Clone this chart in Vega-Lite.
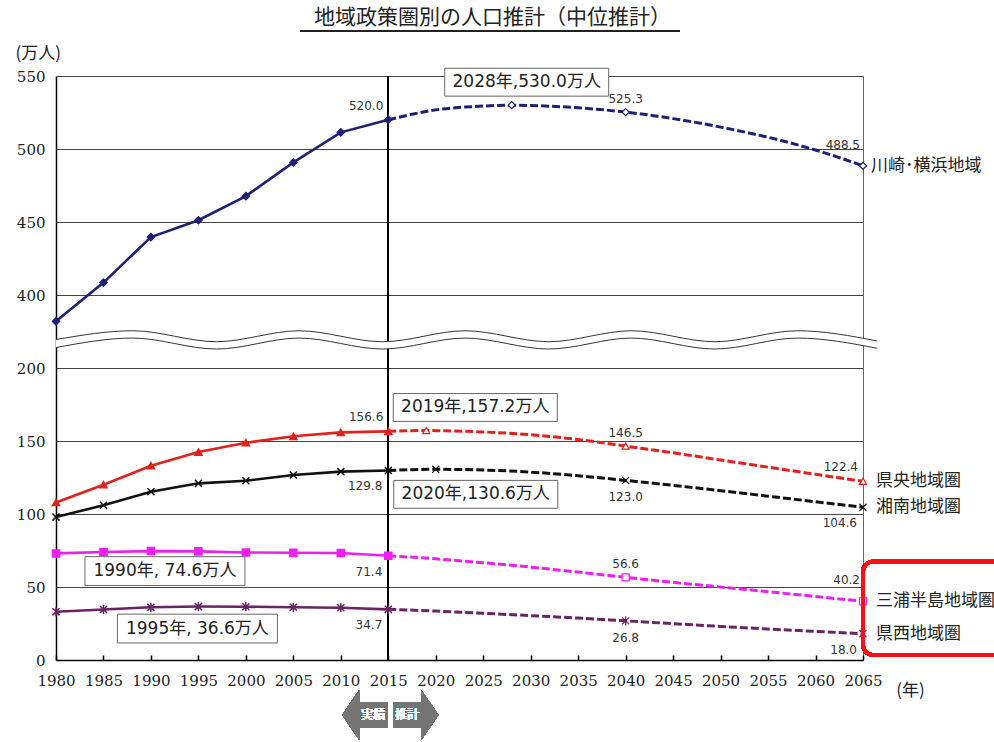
{
  "$schema": "https://vega.github.io/schema/vega-lite/v6.json",
  "width": 807,
  "height": 584,
  "autosize": {"type": "none"},
  "padding": {"left": 56, "top": 76, "right": 131, "bottom": 82},
  "background": "white",
  "config": {
    "view": {"stroke": "#666", "strokeWidth": 1},
    "font": "Noto Sans CJK JP"
  },
  "title": {
    "text": "地域政策圏別の人口推計（中位推計）",
    "font": "Noto Sans CJK JP",
    "fontSize": 21,
    "fontWeight": "normal",
    "color": "#222",
    "anchor": "middle",
    "frame": "group",
    "dx": 33,
    "offset": -15,
    "baseline": "alphabetic"
  },
  "datasets": {
    "population": [
      {"region": "川崎･横浜地域", "year": 1980, "value": 382.0},
      {"region": "川崎･横浜地域", "year": 1985, "value": 408.5},
      {"region": "川崎･横浜地域", "year": 1990, "value": 439.7},
      {"region": "川崎･横浜地域", "year": 1995, "value": 451.2},
      {"region": "川崎･横浜地域", "year": 2000, "value": 467.7},
      {"region": "川崎･横浜地域", "year": 2005, "value": 490.8},
      {"region": "川崎･横浜地域", "year": 2010, "value": 511.4},
      {"region": "川崎･横浜地域", "year": 2015, "value": 520.0},
      {"region": "川崎･横浜地域", "year": 2020, "value": 526.8},
      {"region": "川崎･横浜地域", "year": 2025, "value": 529.4},
      {"region": "川崎･横浜地域", "year": 2028, "value": 530.0, "peak": true},
      {"region": "川崎･横浜地域", "year": 2030, "value": 529.8},
      {"region": "川崎･横浜地域", "year": 2035, "value": 528.2},
      {"region": "川崎･横浜地域", "year": 2040, "value": 525.3},
      {"region": "川崎･横浜地域", "year": 2045, "value": 520.8},
      {"region": "川崎･横浜地域", "year": 2050, "value": 515.0},
      {"region": "川崎･横浜地域", "year": 2055, "value": 508.0},
      {"region": "川崎･横浜地域", "year": 2060, "value": 499.3},
      {"region": "川崎･横浜地域", "year": 2065, "value": 488.5},

      {"region": "県央地域圏", "year": 1980, "value": 107.9},
      {"region": "県央地域圏", "year": 1985, "value": 120.0},
      {"region": "県央地域圏", "year": 1990, "value": 133.1},
      {"region": "県央地域圏", "year": 1995, "value": 142.4},
      {"region": "県央地域圏", "year": 2000, "value": 148.8},
      {"region": "県央地域圏", "year": 2005, "value": 153.2},
      {"region": "県央地域圏", "year": 2010, "value": 155.9},
      {"region": "県央地域圏", "year": 2015, "value": 156.6},
      {"region": "県央地域圏", "year": 2019, "value": 157.2, "peak": true},
      {"region": "県央地域圏", "year": 2020, "value": 157.1},
      {"region": "県央地域圏", "year": 2025, "value": 156.2},
      {"region": "県央地域圏", "year": 2030, "value": 154.3},
      {"region": "県央地域圏", "year": 2035, "value": 151.0},
      {"region": "県央地域圏", "year": 2040, "value": 146.5},
      {"region": "県央地域圏", "year": 2045, "value": 141.9},
      {"region": "県央地域圏", "year": 2050, "value": 137.0},
      {"region": "県央地域圏", "year": 2055, "value": 132.1},
      {"region": "県央地域圏", "year": 2060, "value": 127.2},
      {"region": "県央地域圏", "year": 2065, "value": 122.4},

      {"region": "湘南地域圏", "year": 1980, "value": 97.9},
      {"region": "湘南地域圏", "year": 1985, "value": 106.0},
      {"region": "湘南地域圏", "year": 1990, "value": 115.2},
      {"region": "湘南地域圏", "year": 1995, "value": 121.0},
      {"region": "湘南地域圏", "year": 2000, "value": 122.8},
      {"region": "湘南地域圏", "year": 2005, "value": 126.7},
      {"region": "湘南地域圏", "year": 2010, "value": 129.0},
      {"region": "湘南地域圏", "year": 2015, "value": 129.8},
      {"region": "湘南地域圏", "year": 2020, "value": 130.6, "peak": true},
      {"region": "湘南地域圏", "year": 2025, "value": 130.1},
      {"region": "湘南地域圏", "year": 2030, "value": 128.7},
      {"region": "湘南地域圏", "year": 2035, "value": 126.2},
      {"region": "湘南地域圏", "year": 2040, "value": 123.0},
      {"region": "湘南地域圏", "year": 2045, "value": 119.6},
      {"region": "湘南地域圏", "year": 2050, "value": 116.0},
      {"region": "湘南地域圏", "year": 2055, "value": 112.2},
      {"region": "湘南地域圏", "year": 2060, "value": 108.4},
      {"region": "湘南地域圏", "year": 2065, "value": 104.6},

      {"region": "三浦半島地域圏", "year": 1980, "value": 73.0},
      {"region": "三浦半島地域圏", "year": 1985, "value": 74.0},
      {"region": "三浦半島地域圏", "year": 1990, "value": 74.6, "peak": true},
      {"region": "三浦半島地域圏", "year": 1995, "value": 74.4},
      {"region": "三浦半島地域圏", "year": 2000, "value": 73.6},
      {"region": "三浦半島地域圏", "year": 2005, "value": 73.5},
      {"region": "三浦半島地域圏", "year": 2010, "value": 73.3},
      {"region": "三浦半島地域圏", "year": 2015, "value": 71.4},
      {"region": "三浦半島地域圏", "year": 2020, "value": 69.3},
      {"region": "三浦半島地域圏", "year": 2025, "value": 66.6},
      {"region": "三浦半島地域圏", "year": 2030, "value": 63.6},
      {"region": "三浦半島地域圏", "year": 2035, "value": 60.2},
      {"region": "三浦半島地域圏", "year": 2040, "value": 56.6},
      {"region": "三浦半島地域圏", "year": 2045, "value": 53.2},
      {"region": "三浦半島地域圏", "year": 2050, "value": 50.0},
      {"region": "三浦半島地域圏", "year": 2055, "value": 46.8},
      {"region": "三浦半島地域圏", "year": 2060, "value": 43.5},
      {"region": "三浦半島地域圏", "year": 2065, "value": 40.2},

      {"region": "県西地域圏", "year": 1980, "value": 33.0},
      {"region": "県西地域圏", "year": 1985, "value": 34.6},
      {"region": "県西地域圏", "year": 1990, "value": 36.1},
      {"region": "県西地域圏", "year": 1995, "value": 36.6, "peak": true},
      {"region": "県西地域圏", "year": 2000, "value": 36.5},
      {"region": "県西地域圏", "year": 2005, "value": 36.1},
      {"region": "県西地域圏", "year": 2010, "value": 35.8},
      {"region": "県西地域圏", "year": 2015, "value": 34.7},
      {"region": "県西地域圏", "year": 2020, "value": 33.5},
      {"region": "県西地域圏", "year": 2025, "value": 32.0},
      {"region": "県西地域圏", "year": 2030, "value": 30.4},
      {"region": "県西地域圏", "year": 2035, "value": 28.7},
      {"region": "県西地域圏", "year": 2040, "value": 26.8},
      {"region": "県西地域圏", "year": 2045, "value": 24.9},
      {"region": "県西地域圏", "year": 2050, "value": 23.0},
      {"region": "県西地域圏", "year": 2055, "value": 21.2},
      {"region": "県西地域圏", "year": 2060, "value": 19.6},
      {"region": "県西地域圏", "year": 2065, "value": 18.0}
    ],
    "axisBreak": [
      {"year": 1980, "value": 369.5, "value2": 364.0},
      {"year": 1988.1, "value": 375.5, "value2": 370.5},
      {"year": 1996.9, "value": 368.0, "value2": 363.0},
      {"year": 2005.6, "value": 375.5, "value2": 370.5},
      {"year": 2014.4, "value": 368.0, "value2": 363.0},
      {"year": 2023.1, "value": 375.5, "value2": 370.5},
      {"year": 2031.9, "value": 368.0, "value2": 363.0},
      {"year": 2040.6, "value": 375.5, "value2": 370.5},
      {"year": 2049.4, "value": 368.0, "value2": 363.0},
      {"year": 2058.1, "value": 375.5, "value2": 370.5},
      {"year": 2066.5, "value": 368.5, "value2": 363.5}
    ]
  },
  "data": {"name": "population"},
  "layer": [
    {
      "mark": {"type": "rule", "color": "#000", "strokeWidth": 1.3},
      "encoding": {
        "x": {
          "datum": 2015,
          "type": "quantitative",
          "scale": {"domain": [1980, 2065], "nice": false, "zero": false},
          "axis": {
            "values": [1980, 1985, 1990, 1995, 2000, 2005, 2010, 2015, 2020, 2025, 2030, 2035, 2040, 2045, 2050, 2055, 2060, 2065],
            "format": "d",
            "title": "(年)",
            "titleAngle": 0,
            "titleX": 854,
            "titleY": 30,
            "titleAlign": "center",
            "titleBaseline": "middle",
            "titleFont": "Noto Sans CJK JP",
            "titleFontSize": 17,
            "titleFontWeight": "normal",
            "titleColor": "#222",
            "labelFont": "DejaVu Serif",
            "labelFontSize": 15,
            "labelColor": "#222",
            "labelPadding": 18,
            "labelFlush": false,
            "labelOverlap": false,
            "tickSize": -5,
            "tickColor": "#000",
            "tickWidth": 1.5,
            "domainColor": "#000",
            "domainWidth": 1.5,
            "grid": false
          }
        }
      }
    },
    {
      "data": {"name": "axisBreak"},
      "mark": {"type": "area", "interpolate": "monotone", "color": "white", "opacity": 1},
      "encoding": {
        "x": {"field": "year", "type": "quantitative"},
        "y": {
          "field": "value",
          "type": "quantitative",
          "scale": {"domain": [0, 200, 350, 550], "range": [584, 292, 292, 0], "nice": false, "zero": false},
          "axis": {
            "values": [0, 50, 100, 150, 200, 400, 450, 500, 550],
            "title": "(万人)",
            "titleAngle": 0,
            "titleX": -41,
            "titleY": -23,
            "titleAlign": "left",
            "titleBaseline": "middle",
            "titleFont": "Noto Sans CJK JP",
            "titleFontSize": 17,
            "titleFontWeight": "normal",
            "titleColor": "#222",
            "labelFont": "DejaVu Serif",
            "labelFontSize": 15,
            "labelColor": "#222",
            "labelPadding": 11,
            "ticks": false,
            "domainColor": "#000",
            "domainWidth": 1.5,
            "grid": true,
            "gridColor": "#444",
            "gridWidth": 1
          }
        },
        "y2": {"field": "value2"}
      }
    },
    {
      "data": {"name": "axisBreak"},
      "mark": {"type": "line", "interpolate": "monotone", "color": "#333", "strokeWidth": 1},
      "encoding": {
        "x": {"field": "year", "type": "quantitative"},
        "y": {"field": "value", "type": "quantitative"}
      }
    },
    {
      "data": {"name": "axisBreak"},
      "mark": {"type": "line", "interpolate": "monotone", "color": "#333", "strokeWidth": 1},
      "encoding": {
        "x": {"field": "year", "type": "quantitative"},
        "y": {"field": "value2", "type": "quantitative"}
      }
    },
    {
      "transform": [{"filter": "datum.year <= 2015"}],
      "mark": {"type": "line", "strokeWidth": 2.6},
      "encoding": {
        "x": {"field": "year", "type": "quantitative"},
        "y": {"field": "value", "type": "quantitative"},
        "color": {
          "field": "region",
          "type": "nominal",
          "scale": {
            "domain": ["川崎･横浜地域", "県央地域圏", "湘南地域圏", "三浦半島地域圏", "県西地域圏"],
            "range": ["#1f1f78", "#e3211c", "#111111", "#ee1fee", "#6a2363"]
          },
          "legend": null
        }
      }
    },
    {
      "transform": [{"filter": "datum.year >= 2015"}],
      "mark": {"type": "line", "strokeWidth": 3, "strokeDash": [8, 3], "interpolate": "monotone"},
      "encoding": {
        "x": {"field": "year", "type": "quantitative"},
        "y": {"field": "value", "type": "quantitative"},
        "color": {"field": "region", "type": "nominal", "legend": null}
      }
    },
    {
      "transform": [{"filter": "datum.year <= 2015"}],
      "mark": {"type": "point", "filled": true, "size": 50, "opacity": 1, "strokeWidth": 1.5},
      "encoding": {
        "x": {"field": "year", "type": "quantitative"},
        "y": {"field": "value", "type": "quantitative"},
        "fill": {
          "field": "region",
          "type": "nominal",
          "scale": {
            "domain": ["川崎･横浜地域", "県央地域圏", "湘南地域圏", "三浦半島地域圏", "県西地域圏"],
            "range": ["#1f1f78", "#e3211c", "#111111", "#ee1fee", "#6a2363"]
          },
          "legend": null
        },
        "stroke": {
          "field": "region",
          "type": "nominal",
          "scale": {
            "domain": ["川崎･横浜地域", "県央地域圏", "湘南地域圏", "三浦半島地域圏", "県西地域圏"],
            "range": ["#1f1f78", "#e3211c", "#111111", "#ee1fee", "#6a2363"]
          },
          "legend": null
        },
        "shape": {
          "field": "region",
          "type": "nominal",
          "scale": {
            "domain": ["川崎･横浜地域", "県央地域圏", "湘南地域圏", "三浦半島地域圏", "県西地域圏"],
            "range": ["diamond", "triangle-up", "M-1,-1L1,1M-1,1L1,-1", "square", "M-1,-1L1,1M-1,1L1,-1M0,-1.3L0,1.3"]
          },
          "legend": null
        }
      }
    },
    {
      "transform": [{"filter": "datum.year > 2015 && (datum.year == 2040 || datum.year == 2065 || datum.peak)"}],
      "mark": {"type": "point", "filled": true, "fill": "white", "size": 50, "opacity": 1, "strokeWidth": 1.2},
      "encoding": {
        "x": {"field": "year", "type": "quantitative"},
        "y": {"field": "value", "type": "quantitative"},
        "stroke": {"field": "region", "type": "nominal", "legend": null},
        "shape": {"field": "region", "type": "nominal", "legend": null}
      }
    },
    {
      "transform": [{"filter": "(datum.year == 2015 && (datum.region == '川崎･横浜地域' || datum.region == '県央地域圏')) || (datum.year == 2065 && datum.region == '県央地域圏')"}],
      "mark": {"type": "text", "font": "DejaVu Sans", "fontSize": 12, "color": "#333", "align": "right", "baseline": "middle", "dx": -5, "dy": -14},
      "encoding": {
        "x": {"field": "year", "type": "quantitative"},
        "y": {"field": "value", "type": "quantitative"},
        "text": {"field": "value", "type": "quantitative", "format": ".1f"}
      }
    },
    {
      "transform": [{"filter": "datum.year == 2065 && (datum.region == '川崎･横浜地域' || datum.region == '三浦半島地域圏')"}],
      "mark": {"type": "text", "font": "DejaVu Sans", "fontSize": 12, "color": "#333", "align": "right", "baseline": "middle", "dx": -3, "dy": -21},
      "encoding": {
        "x": {"field": "year", "type": "quantitative"},
        "y": {"field": "value", "type": "quantitative"},
        "text": {"field": "value", "type": "quantitative", "format": ".1f"}
      }
    },
    {
      "transform": [{"filter": "(datum.year == 2015 && (datum.region == '湘南地域圏' || datum.region == '三浦半島地域圏' || datum.region == '県西地域圏')) || (datum.year == 2065 && (datum.region == '湘南地域圏' || datum.region == '県西地域圏'))"}],
      "mark": {"type": "text", "font": "DejaVu Sans", "fontSize": 12, "color": "#333", "align": "right", "baseline": "middle", "dx": -6, "dy": 16},
      "encoding": {
        "x": {"field": "year", "type": "quantitative"},
        "y": {"field": "value", "type": "quantitative"},
        "text": {"field": "value", "type": "quantitative", "format": ".1f"}
      }
    },
    {
      "transform": [{"filter": "datum.year == 2040 && (datum.region == '川崎･横浜地域' || datum.region == '県央地域圏' || datum.region == '三浦半島地域圏')"}],
      "mark": {"type": "text", "font": "DejaVu Sans", "fontSize": 12, "color": "#333", "align": "center", "baseline": "middle", "dy": -13},
      "encoding": {
        "x": {"field": "year", "type": "quantitative"},
        "y": {"field": "value", "type": "quantitative"},
        "text": {"field": "value", "type": "quantitative", "format": ".1f"}
      }
    },
    {
      "transform": [{"filter": "datum.year == 2040 && (datum.region == '湘南地域圏' || datum.region == '県西地域圏')"}],
      "mark": {"type": "text", "font": "DejaVu Sans", "fontSize": 12, "color": "#333", "align": "center", "baseline": "middle", "dy": 17},
      "encoding": {
        "x": {"field": "year", "type": "quantitative"},
        "y": {"field": "value", "type": "quantitative"},
        "text": {"field": "value", "type": "quantitative", "format": ".1f"}
      }
    },
    {
      "transform": [{"filter": "datum.year == 2065 && datum.region == '川崎･横浜地域'"}],
      "mark": {"type": "text", "font": "Noto Sans CJK JP", "fontSize": 17, "color": "#222", "align": "left", "baseline": "middle", "dx": 8},
      "encoding": {
        "x": {"field": "year", "type": "quantitative"},
        "y": {"field": "value", "type": "quantitative"},
        "text": {"field": "region"}
      }
    },
    {
      "transform": [{"filter": "datum.year == 2065 && datum.region != '川崎･横浜地域'"}],
      "mark": {"type": "text", "font": "Noto Sans CJK JP", "fontSize": 17, "color": "#222", "align": "left", "baseline": "middle", "dx": 13},
      "encoding": {
        "x": {"field": "year", "type": "quantitative"},
        "y": {"field": "value", "type": "quantitative"},
        "text": {"field": "region"}
      }
    },
    {
      "transform": [
        {"filter": "datum.peak && datum.region == '川崎･横浜地域'"},
        {"calculate": "datum.year + '年,' + format(datum.value, '.1f') + '万人'", "as": "note"}
      ],
      "encoding": {
        "x": {"field": "year", "type": "quantitative"},
        "y": {"field": "value", "type": "quantitative"}
      },
      "layer": [
        {"mark": {"type": "point", "shape": "M-1,-0.17L1,-0.17L1,0.17L-1,0.17Z", "size": 26896, "filled": true, "fill": "white", "stroke": "#666", "strokeWidth": 1, "opacity": 1, "xOffset": 15, "yOffset": -23}},
        {"mark": {"type": "text", "font": "DejaVu Sans, Noto Sans CJK JP", "fontSize": 17, "color": "#222", "align": "center", "baseline": "middle", "xOffset": 15, "yOffset": -23}, "encoding": {"text": {"field": "note"}}}
      ]
    },
    {
      "transform": [
        {"filter": "datum.peak && datum.region == '県央地域圏'"},
        {"calculate": "datum.year + '年,' + format(datum.value, '.1f') + '万人'", "as": "note"}
      ],
      "encoding": {
        "x": {"field": "year", "type": "quantitative"},
        "y": {"field": "value", "type": "quantitative"}
      },
      "layer": [
        {"mark": {"type": "point", "shape": "M-1,-0.17L1,-0.17L1,0.17L-1,0.17Z", "size": 26896, "filled": true, "fill": "white", "stroke": "#666", "strokeWidth": 1, "opacity": 1, "xOffset": 49, "yOffset": -23}},
        {"mark": {"type": "text", "font": "DejaVu Sans, Noto Sans CJK JP", "fontSize": 17, "color": "#222", "align": "center", "baseline": "middle", "xOffset": 49, "yOffset": -23}, "encoding": {"text": {"field": "note"}}}
      ]
    },
    {
      "transform": [
        {"filter": "datum.peak && datum.region == '湘南地域圏'"},
        {"calculate": "datum.year + '年,' + format(datum.value, '.1f') + '万人'", "as": "note"}
      ],
      "encoding": {
        "x": {"field": "year", "type": "quantitative"},
        "y": {"field": "value", "type": "quantitative"}
      },
      "layer": [
        {"mark": {"type": "point", "shape": "M-1,-0.17L1,-0.17L1,0.17L-1,0.17Z", "size": 26896, "filled": true, "fill": "white", "stroke": "#666", "strokeWidth": 1, "opacity": 1, "xOffset": 40, "yOffset": 25}},
        {"mark": {"type": "text", "font": "DejaVu Sans, Noto Sans CJK JP", "fontSize": 17, "color": "#222", "align": "center", "baseline": "middle", "xOffset": 40, "yOffset": 25}, "encoding": {"text": {"field": "note"}}}
      ]
    },
    {
      "transform": [
        {"filter": "datum.peak && datum.region == '三浦半島地域圏'"},
        {"calculate": "datum.year + '年, ' + format(datum.value, '.1f') + '万人'", "as": "note"}
      ],
      "encoding": {
        "x": {"field": "year", "type": "quantitative"},
        "y": {"field": "value", "type": "quantitative"}
      },
      "layer": [
        {"mark": {"type": "point", "shape": "M-1,-0.18L1,-0.18L1,0.18L-1,0.18Z", "size": 25600, "filled": true, "fill": "white", "stroke": "#666", "strokeWidth": 1, "opacity": 1, "xOffset": 14, "yOffset": 20}},
        {"mark": {"type": "text", "font": "DejaVu Sans, Noto Sans CJK JP", "fontSize": 17, "color": "#222", "align": "center", "baseline": "middle", "xOffset": 14, "yOffset": 20}, "encoding": {"text": {"field": "note"}}}
      ]
    },
    {
      "transform": [
        {"filter": "datum.peak && datum.region == '県西地域圏'"},
        {"calculate": "datum.year + '年, ' + format(datum.value, '.1f') + '万人'", "as": "note"}
      ],
      "encoding": {
        "x": {"field": "year", "type": "quantitative"},
        "y": {"field": "value", "type": "quantitative"}
      },
      "layer": [
        {"mark": {"type": "point", "shape": "M-1,-0.18L1,-0.18L1,0.18L-1,0.18Z", "size": 25600, "filled": true, "fill": "white", "stroke": "#666", "strokeWidth": 1, "opacity": 1, "xOffset": -1, "yOffset": 22}},
        {"mark": {"type": "text", "font": "DejaVu Sans, Noto Sans CJK JP", "fontSize": 17, "color": "#222", "align": "center", "baseline": "middle", "xOffset": -1, "yOffset": 22}, "encoding": {"text": {"field": "note"}}}
      ]
    },
    {
      "mark": {"type": "rect", "filled": false, "color": "#ff1010", "strokeWidth": 3.5, "cornerRadius": 10},
      "encoding": {
        "x": {"datum": 2065, "type": "quantitative"},
        "x2": {"datum": 2080},
        "y": {"datum": 3.4, "type": "quantitative"},
        "y2": {"datum": 67.4}
      }
    },
    {
      "mark": {"type": "point", "shape": "M-0.92,0L-0.58,-0.5L-0.58,-0.26L-0.02,-0.26L-0.02,0.26L-0.58,0.26L-0.58,0.5Z", "size": 10000, "filled": true, "color": "#747474", "opacity": 1, "yOffset": 55},
      "encoding": {
        "x": {"datum": 2015, "type": "quantitative"},
        "y": {"datum": 0, "type": "quantitative"}
      }
    },
    {
      "mark": {"type": "point", "shape": "M0.10,-0.26L0.66,-0.26L0.66,-0.5L1,0L0.66,0.5L0.66,0.26L0.10,0.26Z", "size": 10000, "filled": true, "color": "#747474", "opacity": 1, "yOffset": 55},
      "encoding": {
        "x": {"datum": 2015, "type": "quantitative"},
        "y": {"datum": 0, "type": "quantitative"}
      }
    },
    {
      "mark": {"type": "text", "text": "実績", "font": "Noto Sans CJK JP", "fontSize": 12, "color": "white", "align": "center", "baseline": "middle", "xOffset": -15, "yOffset": 55},
      "encoding": {
        "x": {"datum": 2015, "type": "quantitative"},
        "y": {"datum": 0, "type": "quantitative"}
      }
    },
    {
      "mark": {"type": "text", "text": "推計", "font": "Noto Sans CJK JP", "fontSize": 12, "color": "white", "align": "center", "baseline": "middle", "xOffset": 19, "yOffset": 55},
      "encoding": {
        "x": {"datum": 2015, "type": "quantitative"},
        "y": {"datum": 0, "type": "quantitative"}
      }
    },
    {
      "mark": {"type": "rule", "color": "#222", "strokeWidth": 1.5},
      "encoding": {
        "x": {"datum": 2005.7, "type": "quantitative"},
        "x2": {"datum": 2045.7},
        "y": {"datum": 580.8, "type": "quantitative"}
      }
    }
  ]
}
